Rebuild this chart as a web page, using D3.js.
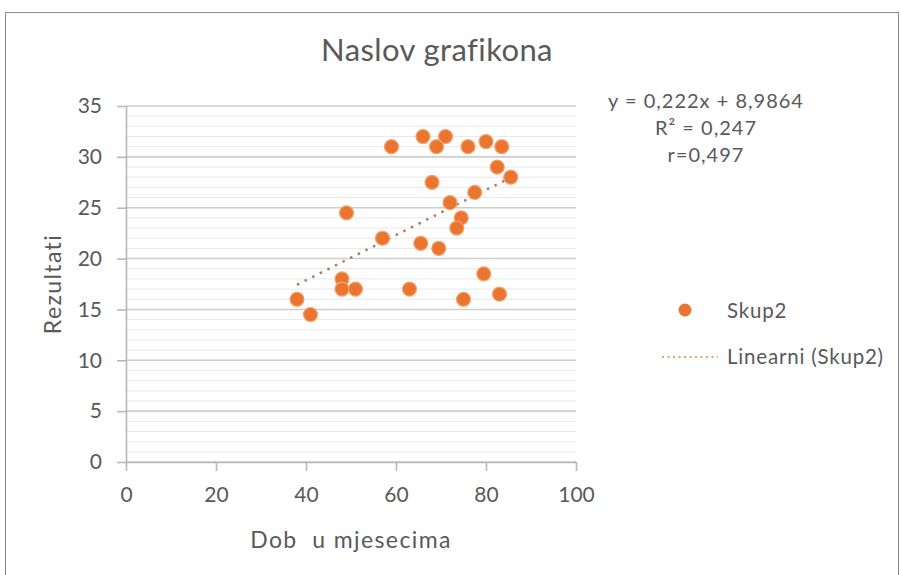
<!DOCTYPE html>
<html>
  <head>
    <meta charset="utf-8">
    <title>Naslov grafikona</title>
    <script src="https://d3js.org/d3.v7.min.js"></script>
    <style>
      body { margin: 0; background: #fff; }
      text { font-family: Lato, "Open Sans", sans-serif; fill: #595959; }
    </style>
  </head>
  <body>
    <div id="chart"></div>
    <script>
      // Dob u mjesecima (x) i rezultati (y), Skup2
      var ages   = [59, 66, 71, 69, 76, 80, 83.5, 82.5, 85.5, 68, 77.5, 72, 74.5, 73.5,
                    49, 57, 65.5, 69.5, 79.5, 48, 48, 51, 38, 41, 63, 75, 83];
      var scores = [31, 32, 32, 31, 31, 31.5, 31, 29, 28, 27.5, 26.5, 25.5, 24, 23,
                    24.5, 22, 21.5, 21, 18.5, 18, 17, 17, 16, 14.5, 17, 16, 16.5];

      // linearni trend (iz jednadzbe na grafu)
      var slope = 0.222, intercept = 8.9864;
      var eqLines = ["y = 0,222x + 8,9864", "R² = 0,247", "r=0,497"];

      var xTicks = [0, 20, 40, 60, 80, 100];
      var yTicks = [0, 5, 10, 15, 20, 25, 30, 35];
      var yMinor = d3.range(0, 36, 1);

      var points = ages.map(function(a, i) { return { x: a, y: scores[i] }; });

      var margin = { top: 106, left: 126 },
          width = 450,
          height = 356;

      var svg = d3.select("#chart")
                  .append("svg")
                  .attr("width", 902)
                  .attr("height", 575);

      // outer frame
      svg.append("rect")
         .attr("x", 5.5).attr("y", 12.5)
         .attr("width", 893).attr("height", 600)
         .attr("fill", "none")
         .attr("stroke", "#8c8c8c");

      svg.append("text")
         .attr("x", 437).attr("y", 61)
         .attr("text-anchor", "middle")
         .style("font-size", "31px")
         .style("letter-spacing", "0.4px")
         .text("Naslov grafikona");

      var g = svg.append("g")
                 .attr("transform", "translate(" + margin.left + "," + margin.top + ")");

      var xScale = d3.scaleLinear().domain([0, 100]).range([0, width]);
      var yScale = d3.scaleLinear().domain([0, 35]).range([height, 0]);

      // minor + major gridlines
      g.selectAll(".minor")
       .data(yMinor)
       .enter()
       .append("line")
       .attr("x1", 0).attr("x2", width)
       .attr("y1", function(d) { return yScale(d); })
       .attr("y2", function(d) { return yScale(d); })
       .attr("stroke", "#e8e8e8");

      g.selectAll(".major")
       .data(yTicks)
       .enter()
       .append("line")
       .attr("x1", 0).attr("x2", width)
       .attr("y1", function(d) { return yScale(d); })
       .attr("y2", function(d) { return yScale(d); })
       .attr("stroke", "#cfcfcf")
       .attr("stroke-width", 1.6);

      // axes
      var xAxis = g.append("g")
                   .attr("transform", "translate(0," + height + ")")
                   .call(d3.axisBottom(xScale).tickValues(xTicks).tickSize(9).tickSizeOuter(0).tickPadding(16));
      var yAxis = g.append("g")
                   .call(d3.axisLeft(yScale).tickValues(yTicks).tickSize(9).tickSizeOuter(0).tickPadding(15));

      [xAxis, yAxis].forEach(function(a) {
        a.select(".domain").attr("stroke", "#b8b8b8").attr("stroke-width", 1.6);
        a.selectAll(".tick line").attr("stroke", "#b8b8b8").attr("stroke-width", 1.6);
        a.selectAll(".tick text")
         .style("font-size", "21px")
         .style("font-family", "Lato, sans-serif")
         .attr("fill", "#595959");
      });

      // trendline
      var ext = d3.extent(ages);
      g.append("line")
       .attr("x1", xScale(ext[0])).attr("y1", yScale(slope * ext[0] + intercept))
       .attr("x2", xScale(ext[1])).attr("y2", yScale(slope * ext[1] + intercept))
       .attr("stroke", "#a87f66")
       .attr("stroke-width", 2.5)
       .attr("stroke-dasharray", "2.5,6");

      // data points
      g.selectAll(".point")
       .data(points)
       .enter()
       .append("circle")
       .attr("class", "point")
       .attr("cx", function(d) { return xScale(d.x); })
       .attr("cy", function(d) { return yScale(d.y); })
       .attr("r", 7)
       .attr("fill", "#ea7530")
       .attr("stroke", "#f4a36c")
       .attr("stroke-width", 1.2);

      // axis titles
      svg.append("text")
         .attr("x", margin.left + width / 2)
         .attr("y", 548)
         .attr("text-anchor", "middle")
         .style("font-size", "23px")
         .style("letter-spacing", "1.4px")
         .style("white-space", "pre")
         .text("Dob  u mjesecima");

      svg.append("text")
         .attr("transform", "translate(61," + (margin.top + height / 2) + ") rotate(-90)")
         .attr("text-anchor", "middle")
         .style("font-size", "23px")
         .style("letter-spacing", "1.4px")
         .text("Rezultati");

      // trend equation
      svg.selectAll(".eq")
         .data(eqLines)
         .enter()
         .append("text")
         .attr("x", 706)
         .attr("y", function(d, i) { return 108 + i * 27; })
         .attr("text-anchor", "middle")
         .style("font-size", "20px")
         .style("letter-spacing", "1px")
         .text(function(d) { return d; });

      // legend
      svg.append("circle")
         .attr("cx", 685).attr("cy", 310).attr("r", 6.5)
         .attr("fill", "#ea7530");
      svg.append("text")
         .attr("x", 727).attr("y", 318)
         .style("font-size", "20.5px")
         .style("letter-spacing", "0.8px")
         .text("Skup2");
      svg.append("line")
         .attr("x1", 662).attr("x2", 718)
         .attr("y1", 357).attr("y2", 357)
         .attr("stroke", "#f0a070")
         .attr("stroke-width", 2)
         .attr("stroke-dasharray", "2,3.5");
      svg.append("text")
         .attr("x", 727).attr("y", 364)
         .style("font-size", "20.5px")
         .style("letter-spacing", "0.8px")
         .text("Linearni (Skup2)");
    </script>
  </body>
</html>
